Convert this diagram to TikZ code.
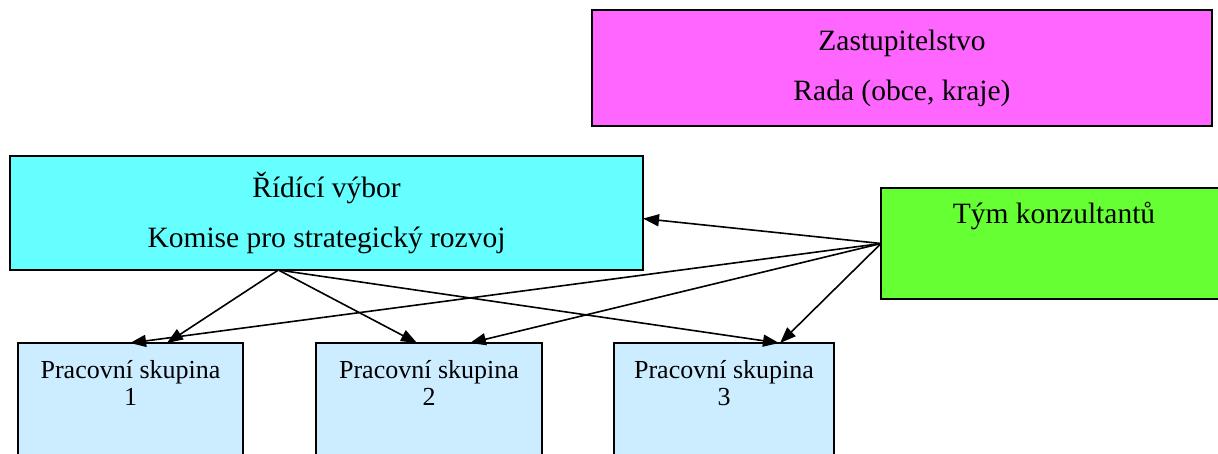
\documentclass[tikz,border=0pt]{standalone}
\usepackage{fontspec}
\setmainfont{Liberation Serif}
\usetikzlibrary{arrows.meta,calc}
\definecolor{cMag}{HTML}{FF66FF}
\definecolor{cCyan}{HTML}{66FFFF}
\definecolor{cGreen}{HTML}{66FF33}
\definecolor{cBlue}{HTML}{CCECFF}
\begin{document}
\begin{tikzpicture}[x=1pt,y=-1pt,
  box/.style={draw=black, line width=1.8pt, rectangle, anchor=north west, inner sep=0pt, outer sep=0pt},
  big/.style={font=\fontsize{29.5}{50}\selectfont, align=center},
  small/.style={font=\fontsize{26}{27}\selectfont, align=center, inner sep=0pt},
  grp/.style={box, fill=cBlue, minimum height=140pt},
  arr/.style={line width=1.6pt, -{Triangle[length=16pt,width=12pt]}}]
\useasboundingbox (0,0) rectangle (1218,453);
\node[box, fill=cMag, minimum width=620pt, minimum height=116pt, big] (zast) at (592,10) {Zastupitelstvo\\Rada (obce, kraje)};
\node[box, fill=cCyan, minimum width=633pt, minimum height=114pt, big] (rid) at (10,156) {Řídící výbor\\Komise pro strategický rozvoj};
\node[box, fill=cGreen, minimum width=346pt, minimum height=111pt,
  label={[font=\fontsize{29.5}{50}\selectfont, anchor=base, inner sep=0pt, yshift=-35pt]north:Tým konzultantů}] (tym) at (881,188) {};
\node[grp, minimum width=225pt, label={[small, anchor=north, yshift=-17pt]north:{Pracovní skupina\\1}}] (g1) at (18,343) {};
\node[grp, minimum width=226pt, label={[small, anchor=north, yshift=-17pt]north:{Pracovní skupina\\2}}] (g2) at (316,343) {};
\node[grp, minimum width=220pt, label={[small, anchor=north, yshift=-17pt]north:{Pracovní skupina\\3}}] (g3) at (614,343) {};
\coordinate (rs) at ($(rid.south west)!0.424!(rid.south east)$);
\coordinate (re) at ($(rid.north east)!0.549!(rid.south east)$);
\draw[arr] (rs) -- ($(g1.north west)!0.662!(g1.north east)$);
\draw[arr] (rs) -- ($(g2.north west)!0.447!(g2.north east)$);
\draw[arr] (rs) -- ($(g3.north west)!0.75!(g3.north east)$);
\draw[arr] (tym.west) -- (re);
\draw[arr] (tym.west) -- ($(g1.north west)!0.498!(g1.north east)$);
\draw[arr] (tym.west) -- ($(g2.north west)!0.681!(g2.north east)$);
\draw[arr] (tym.west) -- ($(g3.north west)!0.755!(g3.north east)$);
\end{tikzpicture}
\end{document}
